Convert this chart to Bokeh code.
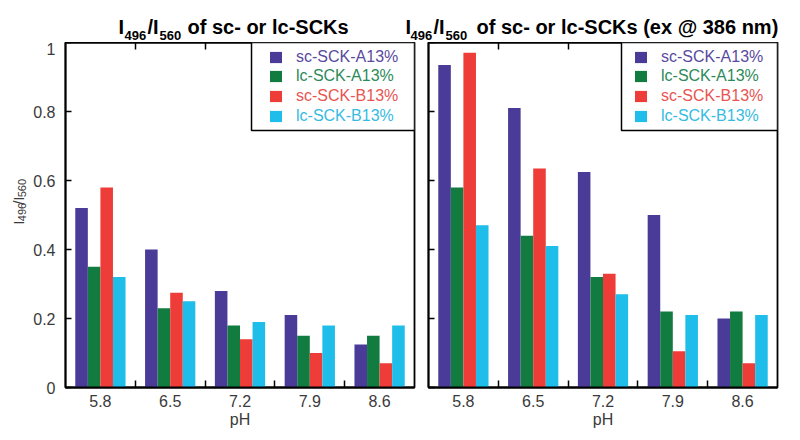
from bokeh.plotting import figure
from bokeh.layouts import row, column
from bokeh.models import (Range1d, LinearAxis, FixedTicker, Legend, LegendItem,
                          BoxAnnotation, ColumnDataSource)
from bokeh.core.properties import value
from bokeh.embed import file_html
from bokeh.resources import INLINE
import math

# ---------------- data ----------------
ph = ["5.8", "6.5", "7.2", "7.9", "8.6"]
series = ["sc-SCK-A13%", "lc-SCK-A13%", "sc-SCK-B13%", "lc-SCK-B13%"]

left_sc_A = [0.52, 0.40, 0.28, 0.21, 0.125]
left_lc_A = [0.35, 0.23, 0.18, 0.15, 0.15]
left_sc_B = [0.58, 0.275, 0.14, 0.10, 0.07]
left_lc_B = [0.32, 0.25, 0.19, 0.18, 0.18]

right_sc_A = [0.935, 0.81, 0.625, 0.50, 0.20]
right_lc_A = [0.58, 0.44, 0.32, 0.22, 0.22]
right_sc_B = [0.97, 0.635, 0.33, 0.105, 0.07]
right_lc_B = [0.47, 0.41, 0.27, 0.21, 0.21]

y_ticks = [0, 0.2, 0.4, 0.6, 0.8, 1]
y_tick_labels = ["0", "0.2", "0.4", "0.6", "0.8", "1"]

title_left = ["I", "496", "/I", "560", "of sc- or lc-SCKs"]
title_right = ["I", "496", "/I", "560", "of sc- or lc-SCKs (ex @ 386 nm)"]
y_label = ["I", "496", "/I", "560"]

# ---------------- styles / layout ----------------
bar_colors = ["#4B3B98", "#127B40", "#EE3D38", "#1EBDEA"]
text_colors = ["#5A4A9E", "#2C8A5A", "#E85452", "#35BBE2"]
offsets = [-0.27, -0.09, 0.09, 0.27]
BAR_W = 0.18
FONT = "Liberation Sans"
TICK_COLOR = "#3a3a3a"
TOTAL_W = 784
TITLE_H = 42
FRAME_W = 349
FRAME_H = 345
BOTTOM_B = 45
YLAB_W = 30


def blank_fig(w, h, xr, yr):
    f = figure(width=w, height=h, x_range=xr, y_range=yr, output_backend="svg",
               toolbar_location=None, x_axis_location=None, y_axis_location=None,
               min_border=0, min_border_left=0, min_border_right=0,
               min_border_top=0, min_border_bottom=0)
    f.xgrid.visible = False
    f.ygrid.visible = False
    f.outline_line_color = None
    return f


def make_panel(values, border_left, border_right, show_ylabels, legend_left, legend_vx):
    p = figure(frame_width=FRAME_W, frame_height=FRAME_H, x_range=Range1d(0, 5),
               y_range=Range1d(0, 1), output_backend="svg", toolbar_location=None,
               min_border_left=border_left, min_border_right=border_right,
               min_border_top=0, min_border_bottom=BOTTOM_B)
    p.xgrid.visible = False
    p.ygrid.visible = False
    p.outline_line_color = "black"
    p.outline_line_width = 1.8

    renderers = []
    for j, vals in enumerate(values):
        src = ColumnDataSource(dict(x=[i + 0.5 + offsets[j] for i in range(len(ph))], top=vals))
        r = p.vbar(x="x", top="top", width=BAR_W, bottom=0, source=src,
                   fill_color=bar_colors[j], line_color=None)
        renderers.append(r)

    xa = p.xaxis[0]
    xa.ticker = FixedTicker(ticks=[i + 0.5 for i in range(len(ph))],
                            minor_ticks=[i for i in range(1, len(ph))])
    xa.major_label_overrides = {i + 0.5: ph[i] for i in range(len(ph))}
    xa.major_tick_in = 0
    xa.major_tick_out = 0
    xa.minor_tick_in = 7
    xa.minor_tick_out = 0
    xa.minor_tick_line_color = "black"
    xa.minor_tick_line_width = 1.5
    xa.axis_line_color = "black"
    xa.axis_line_width = 1.8
    xa.major_label_text_font = FONT
    xa.major_label_text_font_size = "16px"
    xa.major_label_text_color = TICK_COLOR
    xa.major_label_standoff = 7
    xa.axis_label = "pH"
    xa.axis_label_text_font = FONT
    xa.axis_label_text_font_size = "16px"
    xa.axis_label_text_font_style = "normal"
    xa.axis_label_text_color = TICK_COLOR
    xa.axis_label_standoff = 1

    top = LinearAxis(ticker=FixedTicker(ticks=[], minor_ticks=[i for i in range(1, len(ph))]),
                     major_label_standoff=0,
                     major_tick_in=0, major_tick_out=0, minor_tick_in=7, minor_tick_out=0,
                     minor_tick_line_color="black", minor_tick_line_width=1.5,
                     axis_line_color="black", axis_line_width=1.8)
    p.add_layout(top, "above")

    ya = p.yaxis[0]
    ya.ticker = FixedTicker(ticks=y_ticks)
    ya.major_tick_in = 6
    ya.major_tick_out = 0
    ya.major_tick_line_color = "black"
    ya.major_tick_line_width = 1.5
    ya.minor_tick_line_color = None
    ya.axis_line_color = "black"
    ya.axis_line_width = 1.8
    ya.major_label_text_font = FONT
    ya.major_label_text_color = TICK_COLOR
    ya.major_label_text_font_size = "16px"
    if show_ylabels:
        ya.major_label_overrides = {t: l for t, l in zip(y_ticks, y_tick_labels)}
        ya.major_label_standoff = 10
    else:
        ya.major_label_overrides = {t: "" for t in y_ticks}
        ya.major_label_standoff = 0

    p.add_layout(BoxAnnotation(left=legend_left, right=5, top=1, bottom=0.745,
                               fill_color="white", fill_alpha=1,
                               line_color="black", line_alpha=1, line_width=1.5))
    vys = [321.5, 302, 282, 262]
    for j, r in enumerate(renderers):
        lg = Legend(items=[LegendItem(label=series[j], renderers=[r])],
                    location=(legend_vx, vys[j]), orientation="vertical",
                    padding=0, margin=0, spacing=0, border_line_color=None,
                    background_fill_alpha=0, label_text_color=text_colors[j],
                    label_text_font=FONT, label_text_font_size="16px",
                    glyph_width=15, glyph_height=14, label_height=18, label_standoff=13)
        p.add_layout(lg)
    return p


# ---------------- title strip (coordinates = pixels from top-left) ----------------
t = blank_fig(TOTAL_W, TITLE_H, Range1d(0, TOTAL_W), Range1d(TITLE_H, 0))
main_x = [118, 147, 187, 405, 433, 476]
main_txt = [title_left[0], title_left[2], title_left[4], title_right[0], title_right[2], title_right[4]]
sub_x = [124, 159, 410, 445]
sub_txt = [title_left[1], title_left[3], title_right[1], title_right[3]]
t.text(x=main_x, y=[26] * len(main_x), text=main_txt, text_font=value(FONT),
       text_font_size=value("20px"), text_font_style="bold", text_color="black",
       text_align="left", text_baseline="alphabetic")
t.text(x=sub_x, y=[35] * len(sub_x), text=sub_txt, text_font=value(FONT),
       text_font_size=value("13px"), text_font_style="bold", text_color="black",
       text_align="left", text_baseline="alphabetic")

# ---------------- y-label strip ----------------
panel_h = FRAME_H + BOTTOM_B
yl = blank_fig(YLAB_W, panel_h, Range1d(0, YLAB_W), Range1d(0, panel_h))
ang = math.pi / 2
base = TITLE_H + panel_h  # canvas y of the strip's bottom edge
yl.text(x=[18, 18], y=[base - 248, base - 225.5], text=[y_label[0], y_label[2]],
        text_font=value(FONT), text_font_size=value("15px"), text_color=TICK_COLOR,
        text_align="left", text_baseline="alphabetic", angle=ang)
yl.text(x=[21.5, 21.5], y=[base - 244, base - 217], text=[y_label[1], y_label[3]],
        text_font=value(FONT), text_font_size=value("11px"), text_color=TICK_COLOR,
        text_align="left", text_baseline="alphabetic", angle=ang)

p1 = make_panel([left_sc_A, left_lc_A, left_sc_B, left_lc_B], 64 - YLAB_W, 7, True, 2.665, 203)
p2 = make_panel([right_sc_A, right_lc_A, right_sc_B, right_lc_B], 7, 8, False, 2.765, 205)

layout = column(t, row(yl, p1, p2), spacing=0)
open("out.html", "w").write(file_html(layout, INLINE))
